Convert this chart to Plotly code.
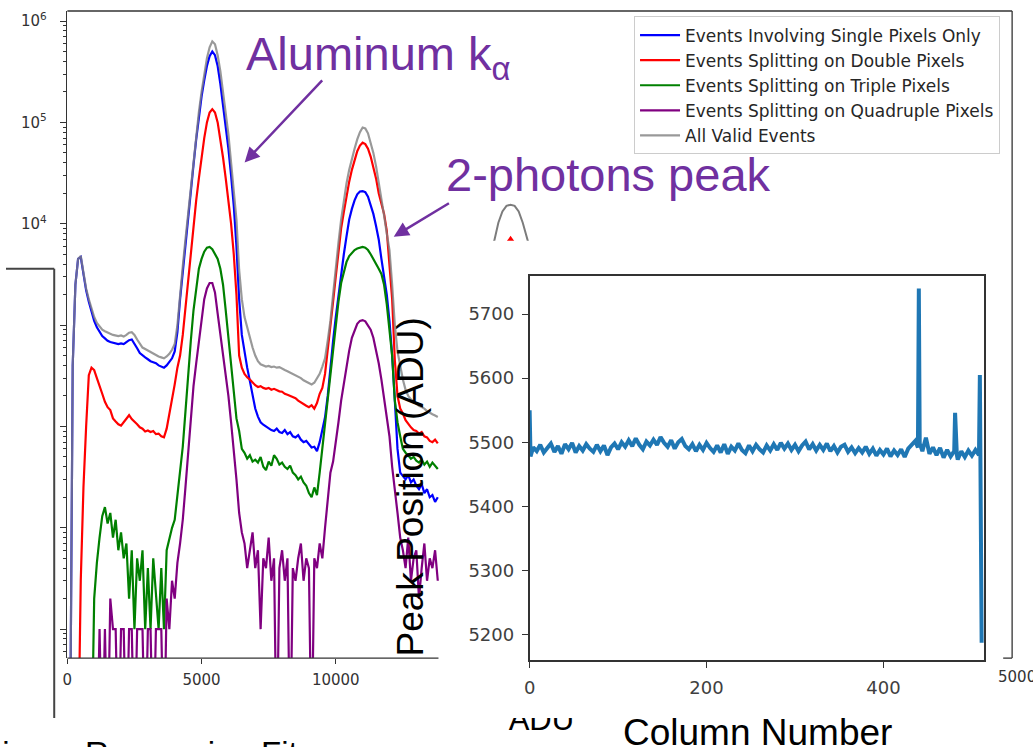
import plotly.graph_objects as go

W, H = 1033, 747


def fx(p):
    return p / W


def fy(p):
    return 1 - p / H


# ---------------- main histogram data (bins every 100 ADU, 0 .. 13800) -------------
adu_bins = list(range(0, 13900, 100))

counts_single = [
    0, 0, 400, 2500, 4500, 4700, 3200, 2200, 1700, 1350,
    1100, 950, 850, 780, 740, 700, 680, 670, 660, 650,
    660, 650, 680, 710, 720, 660, 590, 530, 500, 480,
    460, 440, 430, 420, 400, 390, 380, 400, 430, 470,
    550, 850, 1800, 3400, 6500, 12000, 22000, 38000, 68000, 115000,
    180000, 260000, 360000, 450000, 500000, 460000, 360000, 240000, 150000, 95000,
    55000, 30000, 15000, 6000, 1800, 800, 520, 380, 280, 200,
    150, 125, 110, 104, 100, 95, 92, 90, 95, 88,
    86, 92, 84, 88, 80, 78, 82, 74, 70, 72,
    66, 62, 63, 57, 70, 90, 123, 200, 400, 700,
    1200, 2000, 3200, 5000, 7500, 11000, 14000, 17000, 19500, 20800,
    21000, 20500, 18500, 15500, 12500, 9500, 7000, 4500, 3000, 2000,
    1100, 500, 180, 60, 35, 32, 30, 33, 28, 30,
    26, 24, 27, 22, 24, 20, 21, 18, 20,
]

counts_double = [
    0, 0, 0, 0, 0, 3, 25, 100, 320, 380,
    360, 300, 245, 210, 175, 155, 145, 120, 112, 105,
    102, 110, 120, 129, 118, 112, 105, 98, 95, 89,
    91, 88, 90, 84, 85, 80, 78, 95, 130, 190,
    260, 380, 500, 800, 1500, 3000, 5500, 10000, 17000, 28000,
    45000, 70000, 100000, 125000, 135000, 125000, 100000, 70000, 45000, 28000,
    17000, 10000, 5000, 2000, 500, 380, 330, 305, 290, 270,
    255, 245, 250, 240, 235, 240, 230, 235, 228, 222,
    220, 210, 205, 200, 195, 190, 180, 172, 165, 160,
    155, 162, 150, 170, 210, 240, 330, 550, 1000, 1700,
    3000, 5500, 9000, 13000, 19000, 26000, 34000, 43000, 52000, 59000,
    63000, 61000, 55000, 46000, 37000, 28000, 20000, 15500, 12500, 8500,
    4000, 1800, 450, 200, 150, 134, 115, 105, 98, 92,
    90, 85, 88, 80, 78, 72, 70, 74, 68,
]

counts_triple = [
    0, 0, 0, 0, 0, 0, 0, 0, 0, 0,
    2, 4.5, 8, 13, 16, 11, 14, 8, 12, 6,
    9, 5, 7, 2, 6, 1, 5, 3, 6, 1,
    4, 1, 5, 2, 1, 4, 1, 6, 8, 10,
    12, 22, 40, 63, 140, 350, 700, 1400, 2300, 3600,
    4500, 5300, 5800, 5900, 5600, 5000, 4500, 3600, 2500, 1400,
    750, 380, 200, 120, 90, 60, 55, 48, 52, 45,
    47, 44, 50, 40, 37, 45, 41, 52, 48, 42,
    44, 40, 38, 41, 35, 33, 30, 32, 28, 26,
    22, 20, 25, 21, 35, 60, 110, 180, 350, 600,
    900, 1700, 2600, 3400, 4200, 4800, 5200, 5500, 5700, 5800,
    5900, 5800, 5500, 5000, 4500, 4100, 3600, 3200, 2500, 1600,
    900, 500, 180, 110, 80, 60, 55, 52, 48, 50,
    46, 44, 47, 42, 45, 40, 44, 41, 38,
]

counts_quadruple = [
    0, 0, 0, 0, 0, 0, 0, 0, 0, 0,
    0, 0, 1, 0, 1, 0, 2, 1, 1, 0,
    1, 1, 0, 1, 1, 0, 1, 1, 1, 0,
    1, 1, 0, 1, 1, 1, 0, 2, 1, 3,
    2, 4.5, 7, 12, 25, 55, 120, 250, 420, 700,
    1200, 1800, 2300, 2600, 2600, 2100, 1300, 800, 550, 320,
    200, 110, 60, 30, 14, 9, 7, 4, 6, 9,
    4, 6, 1, 5, 4, 8, 3, 5, 0, 4,
    6, 3, 5, 0, 4, 3, 5, 7, 3, 5,
    4, 0, 5, 4, 7, 5, 10, 20, 35, 45,
    75, 110, 180, 260, 400, 560, 750, 900, 1030, 1100,
    1120, 1090, 1000, 900, 750, 580, 420, 290, 190, 120,
    80, 40, 22, 14, 8, 6, 4, 8, 3, 5,
    6, 2, 4, 7, 3, 5, 4, 6, 3,
]

counts_all = [
    0, 0, 400, 2500, 4500, 4800, 3300, 2300, 1800, 1450,
    1200, 1050, 960, 900, 870, 840, 820, 800, 790, 780,
    790, 770, 800, 840, 850, 800, 720, 650, 600, 580,
    560, 540, 520, 510, 490, 480, 470, 490, 520, 570,
    650, 1000, 2100, 3800, 7000, 12600, 23000, 40000, 72000, 126000,
    200000, 300000, 430000, 550000, 630000, 590000, 460000, 320000, 200000, 126000,
    76000, 40000, 22000, 11000, 3500, 1800, 1200, 950, 720, 600,
    500, 440, 410, 400, 390, 395, 385, 390, 380, 385,
    370, 360, 350, 340, 330, 320, 310, 300, 285, 275,
    265, 260, 270, 300, 330, 390, 470, 700, 1100, 2000,
    3800, 6500, 11000, 17000, 25000, 34000, 44000, 55000, 68000, 80000,
    89000, 87000, 78000, 64000, 50000, 37000, 26000, 18000, 12000, 8000,
    5500, 2500, 1000, 550, 380, 290, 230, 200, 185, 175,
    168, 160, 155, 150, 142, 138, 132, 128, 124,
]

main_xticks = [0, 5000, 10000]
main_xtick_text = ["0", "5000", "10000"]

series_names = [
    "Events Involving Single Pixels Only",
    "Events Splitting on Double Pixels",
    "Events Splitting on Triple Pixels",
    "Events Splitting on Quadruple Pixels",
    "All Valid Events",
]
series_colors = ["#0000ff", "#ff0000", "#008000", "#800080", "rgba(128,128,128,0.8)"]
series_values = [counts_single, counts_double, counts_triple, counts_quadruple, counts_all]

# ---------------- inset data: peak position per column -------------------
inset_cols = sorted(set(range(0, 509, 4)) | {1, 439, 441, 481, 483, 509, 511})
inset_peak = [
    5550, 5478,
    5492, 5486, 5496, 5484, 5491, 5498, 5485, 5494, 5482, 5497,
    5489, 5499, 5484, 5494, 5487, 5497, 5490, 5485, 5496, 5486,
    5495, 5480, 5492, 5498, 5489, 5500, 5493, 5503, 5494, 5506,
    5496, 5489, 5501, 5495, 5504, 5496, 5508, 5499, 5493, 5503,
    5490, 5500, 5505, 5494, 5489, 5497, 5486, 5496, 5488, 5499,
    5491, 5485, 5495, 5484, 5497, 5482, 5493, 5487, 5498, 5488,
    5483, 5495, 5486, 5496, 5489, 5484, 5495, 5487, 5497, 5488,
    5499, 5490, 5498, 5488, 5496, 5486, 5495, 5501, 5489, 5497,
    5487, 5496, 5488, 5498, 5486, 5494, 5484, 5493, 5496, 5485,
    5492, 5483, 5491, 5484, 5493, 5482, 5490, 5479, 5488, 5481,
    5490, 5478, 5487, 5480, 5489, 5477, 5490, 5497, 5502,
    5492, 5740, 5498,
    5486, 5507, 5482, 5492, 5480, 5491, 5476, 5488, 5478, 5486,
    5546, 5480,
    5473, 5486, 5477, 5487, 5479, 5488, 5480,
    5605, 5187,
]
inset_yticks = [5200, 5300, 5400, 5500, 5600, 5700]
inset_xticks = [0, 200, 400]

# fragment of a partially hidden peak from another picture behind the inset
ghost_x = [0, 1, 2, 3, 4, 5, 6, 7, 8, 9, 10]
ghost_gray = [-10, 0, 16, 26, 31, 32, 31, 26, 16, 0, -10]
ghost_red_x = [4, 5, 6]
ghost_red = [-3, 2, -3]


def show_zero_below(vals):
    return [v if v > 0 else 0.05 for v in vals]


fig = go.Figure()

for name, color, vals in zip(series_names, series_colors, series_values):
    fig.add_trace(go.Scatter(
        x=adu_bins, y=show_zero_below(vals), mode="lines", name=name,
        line=dict(color=color, width=2.2), xaxis="x", yaxis="y",
    ))

fig.add_trace(go.Scatter(
    x=inset_cols, y=inset_peak, mode="lines", showlegend=False,
    line=dict(color="#1f77b4", width=4), xaxis="x2", yaxis="y2",
))

fig.add_trace(go.Scatter(
    x=ghost_x, y=ghost_gray, mode="lines", showlegend=False,
    line=dict(color="rgba(110,110,110,0.9)", width=2), xaxis="x3", yaxis="y3",
))
fig.add_trace(go.Scatter(
    x=ghost_red_x, y=ghost_red, mode="lines", showlegend=False,
    line=dict(color="#ff0000", width=3), xaxis="x3", yaxis="y3",
))

# main x axis title, partly hidden by the picture above it
fig.add_trace(go.Scatter(
    x=[0.5], y=[0.84], mode="text", text=["ADU"], showlegend=False,
    textfont=dict(family="Liberation Sans", size=31, color="black"),
    cliponaxis=True, xaxis="x4", yaxis="y4",
))

minor_vals = [k * 10 ** d for d in range(-1, 7) for k in range(2, 10)]

axis_font_color = "#333333"
fig.update_layout(
    width=W, height=H,
    margin=dict(l=0, r=0, t=0, b=0),
    paper_bgcolor="white", plot_bgcolor="white",
    showlegend=True,
    legend=dict(
        x=fx(631.7), y=fy(15.5), xanchor="left", yanchor="top",
        bgcolor="white", bordercolor="#cccccc", borderwidth=1,
        font=dict(family="DejaVu Sans", size=17, color="#262626"),
        itemwidth=40,
    ),
    xaxis=dict(
        domain=[fx(61.7), fx(1012)], range=[0, 35196], anchor="y",
        tickvals=main_xticks, ticktext=main_xtick_text,
        ticks="outside", ticklen=5, tickcolor=axis_font_color,
        showline=False, showgrid=False, zeroline=False, ticklabelstandoff=3,
        tickfont=dict(family="DejaVu Sans", size=15, color=axis_font_color),
    ),
    yaxis=dict(
        domain=[fy(658), fy(10)], type="log", range=[-0.286, 6.099], anchor="x",
        tickvals=[1, 10, 100, 1000, 1e4, 1e5, 1e6],
        ticktext=["", "", "", "", "10<sup>4</sup>", "10<sup>5</sup>", "10<sup>6</sup>"],
        ticks="outside", ticklen=6.5, tickcolor=axis_font_color,
        showline=True, linecolor=axis_font_color, linewidth=1.3,
        showgrid=False, zeroline=False, ticklabelstandoff=10,
        tickfont=dict(family="DejaVu Sans", size=15, color=axis_font_color),
        minor=dict(tickmode="array", tickvals=minor_vals, ticks="outside",
                   ticklen=3.5, tickcolor=axis_font_color, showgrid=False),
    ),
    xaxis2=dict(
        domain=[fx(526.7), fx(984)], range=[0, 514], anchor="y2",
        tickvals=inset_xticks, ticks="outside", ticklen=6, tickcolor="#333333",
        showline=True, mirror=True, linecolor="#333333", linewidth=1.6,
        showgrid=False, zeroline=False, ticklabelstandoff=4,
        tickfont=dict(family="DejaVu Sans", size=18, color="#404040"),
    ),
    yaxis2=dict(
        domain=[fy(660), fy(275)], range=[5160, 5760], anchor="x2",
        tickvals=inset_yticks, ticks="outside", ticklen=6, tickcolor="#333333",
        showline=True, mirror=True, linecolor="#333333", linewidth=1.6,
        showgrid=False, zeroline=False, ticklabelstandoff=4,
        tickfont=dict(family="DejaVu Sans", size=18, color="#404040"),
    ),
    xaxis3=dict(domain=[fx(485), fx(530)], range=[-0.5, 10.5], anchor="y3", visible=False),
    yaxis3=dict(domain=[fy(240), fy(195)], range=[0, 40], anchor="x3", visible=False),
    xaxis4=dict(domain=[fx(478.5), fx(598.5)], range=[0, 1], anchor="y4", visible=False),
    yaxis4=dict(domain=[fy(747), fy(718)], range=[0, 1], anchor="x4", visible=False),
)

frame = dict(type="line", xref="paper", yref="paper", line=dict(color="#333333", width=1.3))
fig.add_shape(frame, x0=fx(61.7), y0=fy(10), x1=fx(1012), y1=fy(10))
fig.add_shape(frame, x0=fx(1012), y0=fy(10), x1=fx(1012), y1=fy(658))
fig.add_shape(frame, x0=fx(61.7), y0=fy(658), x1=fx(435), y1=fy(658))
fig.add_shape(frame, x0=fx(1003), y0=fy(658), x1=fx(1012), y1=fy(658))
box = dict(type="line", xref="paper", yref="paper", line=dict(color="#444444", width=2))
fig.add_shape(box, x0=fx(0), y0=fy(268), x1=fx(48.5), y1=fy(268))
fig.add_shape(box, x0=fx(48.5), y0=fy(268), x1=fx(48.5), y1=fy(718))

purple = "#7030a0"
fig.add_annotation(x=fx(239), y=fy(24), xref="paper", yref="paper", xanchor="left", yanchor="top",
                   text="Aluminum k<sub>α</sub>", showarrow=False,
                   font=dict(family="Liberation Sans", size=47, color=purple))
fig.add_annotation(x=fx(440.5), y=fy(145), xref="paper", yref="paper", xanchor="left", yanchor="top",
                   text="2-photons peak", showarrow=False,
                   font=dict(family="Liberation Sans", size=47, color=purple))
fig.add_annotation(x=fx(240), y=fy(161.7), xref="paper", yref="paper", text="",
                   showarrow=True, ax=79, ay=-83.7, axref="pixel", ayref="pixel",
                   arrowhead=2, arrowsize=1.2, arrowwidth=2.5, arrowcolor=purple, standoff=0)
fig.add_annotation(x=fx(390), y=fy(236), xref="paper", yref="paper", text="",
                   showarrow=True, ax=56.7, ay=-34.3, axref="pixel", ayref="pixel",
                   arrowhead=2, arrowsize=1.2, arrowwidth=2.5, arrowcolor=purple, standoff=0)
fig.add_annotation(x=fx(407), y=fy(486.5), xref="paper", yref="paper", xanchor="center", yanchor="middle",
                   text="Peak Position (ADU)", textangle=-90, showarrow=False,
                   font=dict(family="Liberation Sans", size=37, color="black"))
fig.add_annotation(x=fx(756), y=fy(732), xref="paper", yref="paper", xanchor="center", yanchor="middle",
                   text="Column Number", showarrow=False,
                   font=dict(family="Liberation Sans", size=37, color="black"))
fig.add_annotation(x=fx(-24), y=fy(753.2), xref="paper", yref="paper", xanchor="left", yanchor="middle",
                   text="Linear Regression Fit", showarrow=False,
                   font=dict(family="Liberation Sans", size=33, color="black"))
fig.add_annotation(x=fx(996), y=fy(677), xref="paper", yref="paper", xanchor="left", yanchor="middle",
                   text="5000", showarrow=False,
                   font=dict(family="DejaVu Sans", size=15, color=axis_font_color))

fig.write_html("out.html")
